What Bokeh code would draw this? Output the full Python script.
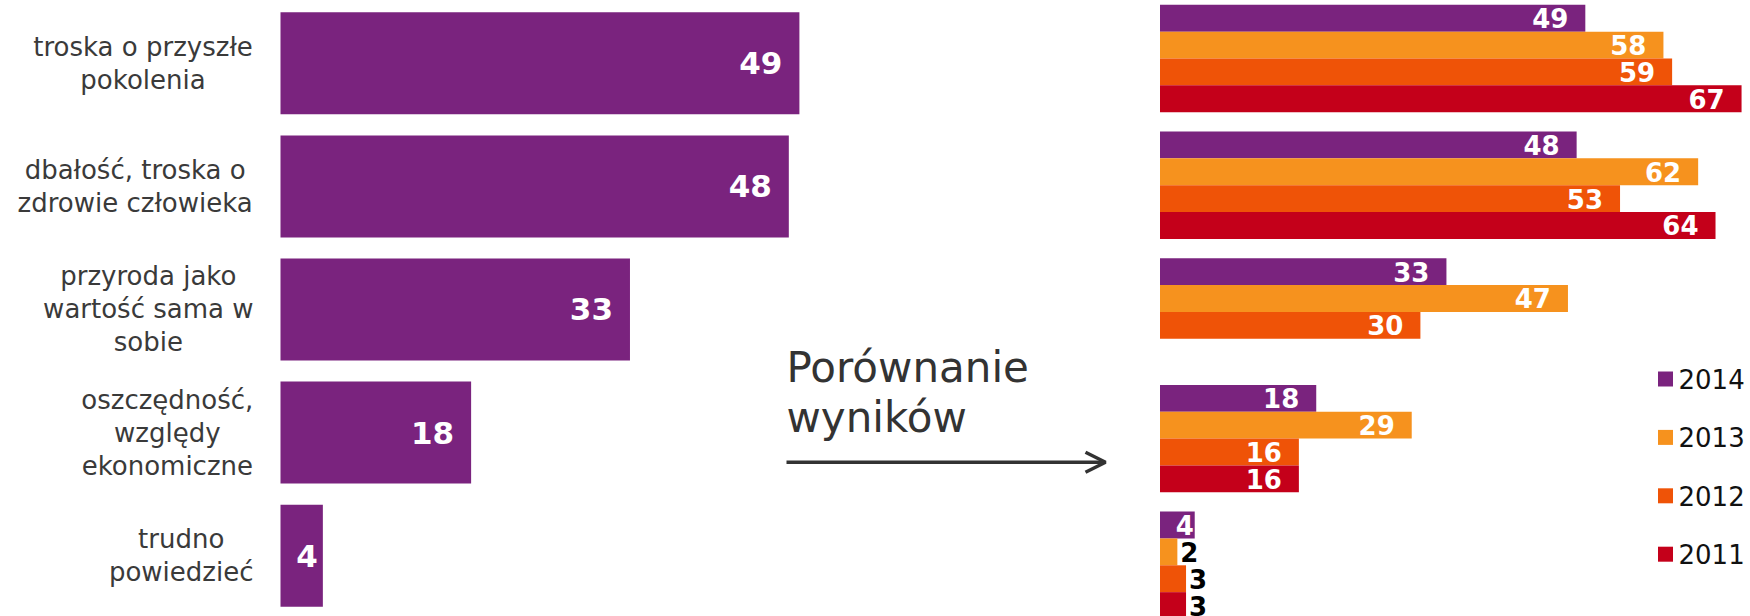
from bokeh.plotting import figure
from bokeh.models import Range1d, ColumnDataSource, Arrow, OpenHead
from bokeh.core.properties import value
from bokeh.embed import file_html
from bokeh.resources import INLINE

# ---------------- data ----------------
categories = [
    "troska o przyszłe\npokolenia",
    "dbałość, troska o\nzdrowie człowieka",
    "przyroda jako\nwartość sama w\nsobie",
    "oszczędność,\nwzględy\nekonomiczne",
    "trudno\npowiedzieć",
]
main_values = [49, 48, 33, 18, 4]

years = ["2014", "2013", "2012", "2011"]
v2014 = [49, 48, 33, 18, 4]
v2013 = [58, 62, 47, 29, 2]
v2012 = [59, 53, 30, 16, 3]
v2011 = [67, 64, None, 16, 3]

title_lines = ["Porównanie", "wyników"]

# ---------------- style ----------------
colors = ["#7A237E", "#F6921E", "#EF5307", "#C4001A"]
FONT = value("DejaVu Sans")
W, H = 1750, 616

# left chart scale: 10.59 px/unit, zero at 280 px; bar period 123.07 px
LX0, LSC = 280.0, 10.59
LY0, LPER = 62.85, 123.07
# right chart scale: 8.68 px/unit, zero at 1159.5 px; group period 126.7 px
RX0, RSC = 1159.5, 8.68
RY0, RPER = 58.0, 126.7
RBAR = 26.85 / RPER

p = figure(
    width=W, height=H,
    x_range=Range1d(-LX0 / LSC, (W - LX0) / LSC),
    y_range=Range1d((H - LY0) / LPER, -LY0 / LPER),
    x_axis_type=None, y_axis_type=None,
    toolbar_location=None, output_backend="svg",
    min_border=0, outline_line_color=None,
    background_fill_color="white", border_fill_color="white",
)
p.extra_x_ranges = {
    "r": Range1d(-RX0 / RSC, (W - RX0) / RSC),
    "px": Range1d(0, W),
}
p.extra_y_ranges = {
    "r": Range1d((H - RY0) / RPER, -RY0 / RPER),
    "px": Range1d(H, 0),
}
p.grid.visible = False

# ---------------- left chart ----------------
idx = list(range(len(categories)))
p.hbar(y=idx, left=0, right=main_values, height=102 / LPER,
       fill_color=colors[0], line_color=None)

lsrc = ColumnDataSource(dict(
    x=main_values, y=idx, t=[str(v) for v in main_values],
    xo=[-17 if v >= 10 else -5 for v in main_values],
))
p.text(x="x", y="y", text="t", x_offset="xo", source=lsrc,
       text_align="right", text_baseline="middle", text_color="white",
       text_font=FONT, text_font_style="bold", text_font_size="31px")

# category labels: right-aligned block, centred lines
EM = {'a': .613, 'b': .635, 'c': .550, 'd': .635, 'e': .615, 'f': .352, 'g': .635,
      'h': .634, 'i': .278, 'j': .278, 'k': .579, 'l': .278, 'm': .974, 'n': .634,
      'o': .612, 'p': .635, 'r': .411, 's': .521, 't': .392, 'u': .634, 'w': .818,
      'y': .592, 'z': .525, ' ': .318, ',': .318, 'ł': .300, 'ś': .521, 'ć': .550,
      'ę': .615, 'ó': .612}
CAT_FS = 26


def block_width(label):
    return max(sum(EM.get(ch, .6) for ch in line) for line in label.split("\n")) * CAT_FS


csrc = ColumnDataSource(dict(
    x=[0] * len(categories), y=idx, t=categories,
    xo=[-(27 + block_width(c) / 2) for c in categories],
))
p.text(x="x", y="y", text="t", x_offset="xo", source=csrc,
       text_align="center", text_baseline="middle", text_color="#3A3A3A",
       text_font=FONT, text_font_size=f"{CAT_FS}px", text_line_height=1.1)

# ---------------- right chart ----------------
series = [v2014, v2013, v2012, v2011]
for j, vals in enumerate(series):
    ys, xs = [], []
    for i, v in enumerate(vals):
        if v is None:
            continue
        ys.append(i + (j - 1.5) * RBAR)
        xs.append(v)
    src = ColumnDataSource(dict(
        y=ys, x=xs, t=[str(v) for v in xs],
        xo=[(-17 if v >= 10 else -1) if v >= 4 else 3 for v in xs],
        al=["right" if v >= 4 else "left" for v in xs],
        tc=["white" if v >= 4 else "black" for v in xs],
    ))
    p.hbar(y="y", left=0, right="x", height=RBAR, source=src,
           fill_color=colors[j], line_color=None,
           x_range_name="r", y_range_name="r")
    p.text(x="x", y="y", text="t", x_offset="xo", text_align="al",
           text_color="tc", source=src, text_baseline="middle",
           text_font=FONT, text_font_style="bold", text_font_size="26px",
           x_range_name="r", y_range_name="r")

# ---------------- middle caption + arrow ----------------
p.text(x=[786, 786], y=[367.0, 417.0], text=title_lines,
       text_align="left", text_baseline="alphabetic", text_color="#333333",
       text_font=FONT, text_font_size="42px",
       x_range_name="px", y_range_name="px")
p.add_layout(Arrow(x_start=786, y_start=461.7, x_end=1105, y_end=461.7,
                   line_width=3.5, line_color="#333333",
                   end=OpenHead(size=20, line_width=3.5, line_color="#333333"),
                   x_range_name="px", y_range_name="px"))

# ---------------- legend ----------------
leg_y = [378.5 + 58.4 * k for k in range(len(years))]
p.scatter(x=[1665] * len(years), y=leg_y, marker="square", size=15,
          fill_color=colors, line_color=None,
          x_range_name="px", y_range_name="px")
p.text(x=[1678] * len(years), y=leg_y, text=years,
       text_align="left", text_baseline="middle", text_color="#111111",
       text_font=FONT, text_font_size="26px",
       x_range_name="px", y_range_name="px")

open("out.html", "w").write(file_html(p, INLINE))
